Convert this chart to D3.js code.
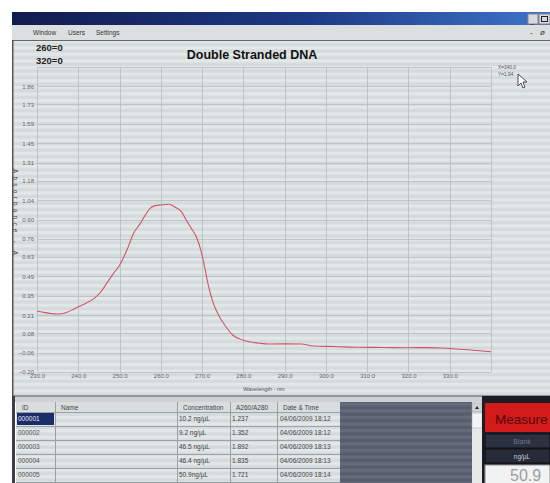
<!DOCTYPE html>
<head>
<meta charset="utf-8">
<style>
  body { margin: 0; background: #fff; }
  svg { display: block; font-family: "Liberation Sans", Arial, sans-serif; }
</style>
</head>
<body>
<svg width="550" height="483"></svg>
<script src="https://d3js.org/d3.v7.min.js"></script>
<script>
// spectrum (wavelength nm / absorbance)
var wavelength = [230, 232, 234, 235, 237, 239, 240, 242, 244, 245.5, 247, 248.5, 250, 251.8, 253.4, 255, 256.2, 257.4, 258.6, 260, 262, 263.4, 265, 266.2, 267.4, 268.6, 269.8, 270.6, 271.4, 272.6, 274.2, 275.8, 277.4, 279.8, 282.2, 284, 286.3, 290, 294, 297, 302, 308, 314, 320, 324, 328, 335, 340];
var absorbance = [0.24, 0.228, 0.22, 0.218, 0.228, 0.255, 0.27, 0.298, 0.335, 0.379, 0.445, 0.51, 0.57, 0.68, 0.80, 0.87, 0.93, 0.98, 1.00, 1.005, 1.01, 0.99, 0.955, 0.895, 0.835, 0.775, 0.667, 0.56, 0.44, 0.306, 0.198, 0.126, 0.067, 0.031, 0.014, 0.007, 0.002, 0.003, 0.002, -0.013, -0.016, -0.022, -0.023, -0.025, -0.024, -0.027, -0.041, -0.054];

var yTicks = [-0.20, -0.06, 0.08, 0.21, 0.35, 0.49, 0.63, 0.76, 0.90, 1.04, 1.18, 1.31, 1.45, 1.59, 1.73, 1.86];
var xTicks = [230, 240, 250, 260, 270, 280, 290, 300, 310, 320, 330];

// table of samples
var ids = ["000001", "000002", "000003", "000004", "000005"];
var concentration = ["10.2 ng/µL", "9.2 ng/µL", "46.5 ng/µL", "46.4 ng/µL", "50.9ng/µL"];
var ratio = ["1.237", "1.352", "1.892", "1.835", "1.721"];
var dateTime = ["04/06/2009 18:12", "04/06/2009 18:12", "04/06/2009 18:13", "04/06/2009 18:13", "04/06/2009 18:14"];
var columns = ["ID", "Name", "Concentration", "A260/A280", "Date & Time"];

var svg = d3.select("svg");
var defs = svg.append("defs");

var grad = defs.append("linearGradient").attr("id", "tbar");
grad.append("stop").attr("offset", "0%").attr("stop-color", "#111c4e");
grad.append("stop").attr("offset", "55%").attr("stop-color", "#1d3a86");
grad.append("stop").attr("offset", "100%").attr("stop-color", "#3f74c8");

var stripes = defs.append("pattern").attr("id", "stripes")
    .attr("width", 8).attr("height", 6.6).attr("patternUnits", "userSpaceOnUse");
stripes.append("rect").attr("width", 8).attr("height", 6.6).attr("fill", "#e2e7e7");
stripes.append("rect").attr("y", 3.3).attr("width", 8).attr("height", 3.3).attr("fill", "#d5dbdc");

var darkStripes = defs.append("pattern").attr("id", "darkstripes")
    .attr("width", 8).attr("height", 6.6).attr("patternUnits", "userSpaceOnUse");
darkStripes.append("rect").attr("width", 8).attr("height", 6.6).attr("fill", "#646b7a");
darkStripes.append("rect").attr("y", 3.3).attr("width", 8).attr("height", 3.3).attr("fill", "#565d6c");

// window frame
svg.append("rect").attr("x", 12).attr("y", 12).attr("width", 538).attr("height", 13).attr("fill", "url(#tbar)");
svg.append("rect").attr("x", 528).attr("y", 14).attr("width", 10).attr("height", 10).attr("fill", "#d7dbe0").attr("stroke", "#888");
svg.append("rect").attr("x", 539).attr("y", 14).attr("width", 11).attr("height", 10).attr("fill", "#d7dbe0").attr("stroke", "#888");
svg.append("text").attr("x", 530).attr("y", 23).attr("font-size", 8).attr("fill", "#222").text("_");
svg.append("rect").attr("x", 541.5).attr("y", 16.5).attr("width", 6).attr("height", 5).attr("fill", "none").attr("stroke", "#222");

svg.append("rect").attr("x", 12).attr("y", 25).attr("width", 538).attr("height", 15).attr("fill", "#dcdfe0");
var menu = svg.append("g").attr("font-size", 6.5).attr("fill", "#333");
menu.append("text").attr("x", 33).attr("y", 35).text("Window");
menu.append("text").attr("x", 68).attr("y", 35).text("Users");
menu.append("text").attr("x", 96).attr("y", 35).text("Settings");
menu.append("text").attr("x", 530).attr("y", 35).attr("font-size", 8).text("-");
menu.append("text").attr("x", 540).attr("y", 35).attr("font-size", 8).attr("font-style", "italic").text("ø");

// chart panel
svg.append("rect").attr("x", 12).attr("y", 40).attr("width", 538).attr("height", 356).attr("fill", "url(#stripes)");
svg.append("line").attr("x1", 12).attr("x2", 550).attr("y1", 40.5).attr("y2", 40.5).attr("stroke", "#666");

svg.append("text").attr("x", 36).attr("y", 51).attr("font-size", 9.5).attr("font-weight", "bold").attr("fill", "#222").text("260=0");
svg.append("text").attr("x", 36).attr("y", 64).attr("font-size", 9.5).attr("font-weight", "bold").attr("fill", "#222").text("320=0");
svg.append("text").attr("x", 252).attr("y", 59).attr("text-anchor", "middle").attr("font-size", 12.5)
    .attr("font-weight", "bold").attr("fill", "#111").text("Double Stranded DNA");

var x = d3.scaleLinear().domain([230, 340]).range([37, 491]);
var y = d3.scaleLinear().domain([-0.2, 2.0]).range([372, 67]);

var grid = svg.append("g").attr("stroke", "#b6bec1").attr("stroke-width", 0.8);
grid.selectAll(".h").data(yTicks.concat([2.0])).enter().append("line")
    .attr("x1", x(230)).attr("x2", x(340))
    .attr("y1", function(d) { return Math.round(y(d)) + 0.5; })
    .attr("y2", function(d) { return Math.round(y(d)) + 0.5; });
grid.selectAll(".v").data(xTicks.concat([340])).enter().append("line")
    .attr("y1", y(2.0)).attr("y2", y(-0.2))
    .attr("x1", function(d) { return Math.round(x(d)) + 0.5; })
    .attr("x2", function(d) { return Math.round(x(d)) + 0.5; });

var yAxis = svg.append("g").attr("transform", "translate(" + x(230) + ",0)")
    .call(d3.axisLeft(y).tickValues(yTicks).tickFormat(d3.format(".2f")).tickSize(0).tickPadding(3));
var xAxis = svg.append("g").attr("transform", "translate(0," + y(-0.2) + ")")
    .call(d3.axisBottom(x).tickValues(xTicks).tickFormat(d3.format(".1f")).tickSize(0).tickPadding(2));
[yAxis, xAxis].forEach(function(a) {
  a.select(".domain").remove();
  a.selectAll("text").attr("font-size", 6).attr("fill", "#666").attr("font-family", "Liberation Sans, Arial, sans-serif");
});

svg.append("text").attr("x", (x(230) + x(340)) / 2).attr("y", 391).attr("text-anchor", "middle")
    .attr("font-size", 5.5).attr("fill", "#555").text("Wavelength - nm");
svg.append("text").attr("transform", "translate(13,169) rotate(90)")
    .attr("font-size", 6.5).attr("letter-spacing", 3.2).attr("fill", "#444").text("Absorbance - A");

var line = d3.line()
    .x(function(d, i) { return x(wavelength[i]); })
    .y(function(d) { return y(d); })
    .curve(d3.curveMonotoneX);
svg.append("path").datum(absorbance).attr("d", line)
    .attr("fill", "none").attr("stroke", "#d05468").attr("stroke-width", 1.1);

// cursor readout
svg.append("text").attr("x", 498).attr("y", 69).attr("font-size", 4.8).attr("fill", "#555").text("X=340.0");
svg.append("text").attr("x", 498).attr("y", 76).attr("font-size", 4.8).attr("fill", "#555").text("Y=1.94");
svg.append("path").attr("d", "M518,74 L518,86 L521,83 L523,88 L525,87 L523,82 L527,82 Z")
    .attr("fill", "#fff").attr("stroke", "#222").attr("stroke-width", 0.8);

// splitter
svg.append("rect").attr("x", 12).attr("y", 396).attr("width", 538).attr("height", 6).attr("fill", "#cdd1d2");
svg.append("line").attr("x1", 12).attr("x2", 550).attr("y1", 396).attr("y2", 396).attr("stroke", "#555");

// table
var colX = [16, 55, 177, 230, 277, 340];
var rowY = [402, 412, 426, 440, 454, 468, 482];
var table = svg.append("g").attr("font-size", 6.5);
table.append("rect").attr("x", colX[0]).attr("y", rowY[0]).attr("width", colX[5] - colX[0]).attr("height", rowY[1] - rowY[0]).attr("fill", "#d9dddd");
table.append("rect").attr("x", colX[0]).attr("y", rowY[1]).attr("width", colX[5] - colX[0]).attr("height", 483 - rowY[1]).attr("fill", "url(#stripes)");
table.selectAll(".hd").data(columns).enter().append("text")
    .attr("x", function(d, i) { return colX[i] + 6; }).attr("y", 410).attr("fill", "#444").text(function(d) { return d; });
table.append("rect").attr("x", colX[0] + 1).attr("y", rowY[1] + 1).attr("width", colX[1] - colX[0] - 2).attr("height", rowY[2] - rowY[1] - 2).attr("fill", "#1c2c68");
table.selectAll(".rl").data(rowY.slice(1)).enter().append("line")
    .attr("x1", colX[0]).attr("x2", colX[5]).attr("y1", function(d) { return d + 0.5; }).attr("y2", function(d) { return d + 0.5; })
    .attr("stroke", "#9ba2a5");
table.selectAll(".cl").data(colX.slice(1)).enter().append("line")
    .attr("y1", rowY[0]).attr("y2", 483).attr("x1", function(d) { return d + 0.5; }).attr("x2", function(d) { return d + 0.5; })
    .attr("stroke", "#9ba2a5");
var rows = table.selectAll(".row").data(ids).enter().append("g")
    .attr("transform", function(d, i) { return "translate(0," + (rowY[i + 1] + 9) + ")"; });
rows.append("text").attr("x", colX[0] + 2).attr("fill", function(d, i) { return i === 0 ? "#e8ecff" : "#555"; }).text(function(d) { return d; });
rows.append("text").attr("x", colX[2] + 2).attr("fill", "#444").text(function(d, i) { return concentration[i]; });
rows.append("text").attr("x", colX[3] + 2).attr("fill", "#444").text(function(d, i) { return ratio[i]; });
rows.append("text").attr("x", colX[4] + 3).attr("fill", "#444").text(function(d, i) { return dateTime[i]; });

svg.append("rect").attr("x", 12).attr("y", 396).attr("width", 3).attr("height", 87).attr("fill", "#3a3f48");
svg.append("rect").attr("x", 12).attr("y", 40).attr("width", 1.5).attr("height", 356).attr("fill", "#555");

// dark area, scrollbar and buttons
svg.append("rect").attr("x", 340).attr("y", 402).attr("width", 132).attr("height", 81).attr("fill", "url(#darkstripes)");
svg.append("rect").attr("x", 472).attr("y", 402).attr("width", 10).attr("height", 81).attr("fill", "#e6e8e8");
svg.append("rect").attr("x", 472).attr("y", 403).attr("width", 10).attr("height", 9).attr("fill", "#d0d3d4").attr("stroke", "#999").attr("stroke-width", 0.5);
svg.append("path").attr("d", "M475,409 L477,406 L479,409 Z").attr("fill", "#222");
svg.append("rect").attr("x", 472).attr("y", 413).attr("width", 10).attr("height", 15).attr("fill", "#f4f5f5").attr("stroke", "#aaa").attr("stroke-width", 0.5);
svg.append("rect").attr("x", 482).attr("y", 396).attr("width", 68).attr("height", 87).attr("fill", "#1b1e27");
svg.append("rect").attr("x", 485).attr("y", 403).attr("width", 65).attr("height", 29).attr("fill", "#d31b1b");
svg.append("text").attr("x", 495).attr("y", 424).attr("font-size", 13.5).attr("fill", "#520808").text("Measure");
svg.append("rect").attr("x", 485).attr("y", 434).attr("width", 65).attr("height", 14).attr("fill", "#2c3142").attr("stroke", "#111");
svg.append("text").attr("x", 522).attr("y", 444).attr("text-anchor", "middle").attr("font-size", 7).attr("fill", "#6f7585").text("Blank");
svg.append("rect").attr("x", 485).attr("y", 449).attr("width", 65).attr("height", 14).attr("fill", "#262b3a").attr("stroke", "#111");
svg.append("text").attr("x", 522).attr("y", 459).attr("text-anchor", "middle").attr("font-size", 6.5).attr("fill", "#c9cdd6").text("ng/µL");
svg.append("rect").attr("x", 485).attr("y", 465).attr("width", 65).attr("height", 20).attr("fill", "#f1f2f2").attr("stroke", "#8d9094");
svg.append("text").attr("x", 510).attr("y", 481).attr("font-size", 16).attr("fill", "#9a9c9f").text("50.9");
</script>
</body>
